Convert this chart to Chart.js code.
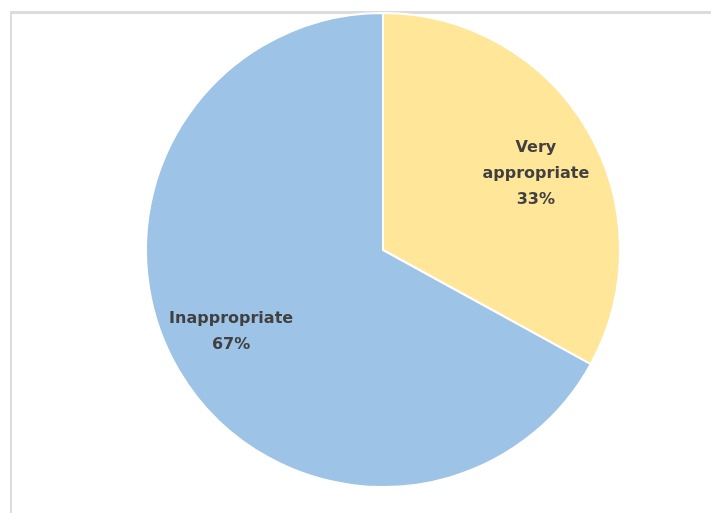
<!DOCTYPE html>
<html>
<head>
<meta charset="utf-8">
<script src="https://cdn.jsdelivr.net/npm/chart.js@4/dist/chart.umd.min.js"></script>
<style>
  html, body { margin: 0; padding: 0; background: #ffffff; }
  #wrap { position: relative; width: 711px; height: 513px; overflow: hidden; }
  #frame {
    position: absolute; left: 10px; top: 11px; right: -5px; bottom: -5px;
    border-top: 3px solid #dcdcdc; border-left: 2px solid #dcdcdc;
  }
  #chart { position: absolute; left: 0; top: 0; }
</style>
</head>
<body>
<div id="wrap">
  <div id="frame"></div>
  <canvas id="chart" width="711" height="513"></canvas>
</div>
<script>
// Share of responses per rating
const categories = ['Very appropriate', 'Inappropriate'];
const labelLines = [['Very', 'appropriate'], ['Inappropriate']];
const shares = [33, 67];
const sliceColors = ['#FFE699', '#9DC3E6'];
// small per-label nudges (px) from the slice's mid-angle anchor
const labelNudge = [[6, 11], [-5, -5]];

const sliceLabels = {
  id: 'sliceLabels',
  afterDatasetsDraw(chart) {
    const ctx = chart.ctx;
    const meta = chart.getDatasetMeta(0);
    ctx.save();
    ctx.font = 'bold 16px "DejaVu Sans", sans-serif';
    ctx.fillStyle = '#404040';
    ctx.textAlign = 'center';
    ctx.textBaseline = 'middle';
    meta.data.forEach((arc, i) => {
      const p = arc.getProps(['x', 'y', 'startAngle', 'endAngle', 'outerRadius'], true);
      const mid = (p.startAngle + p.endAngle) / 2;
      const r = p.outerRadius * 0.72;
      const cx = p.x + Math.cos(mid) * r + labelNudge[i][0];
      const cy = p.y + Math.sin(mid) * r + labelNudge[i][1];
      const lines = labelLines[i].concat([shares[i] + '%']);
      const lh = 26;
      const y0 = cy - (lines.length - 1) * lh / 2;
      lines.forEach((t, k) => ctx.fillText(t, cx, y0 + k * lh));
    });
    ctx.restore();
  }
};

new Chart(document.getElementById('chart'), {
  type: 'pie',
  data: {
    labels: categories,
    datasets: [{
      data: shares,
      backgroundColor: sliceColors,
      borderColor: '#ffffff',
      borderWidth: 2,
      hoverOffset: 0,
      offset: 0
    }]
  },
  options: {
    responsive: false,
    animation: false,
    events: [],
    radius: 237,
    layout: { padding: { left: 55, right: 0, top: 0, bottom: 13 } },
    plugins: {
      legend: { display: false },
      tooltip: { enabled: false }
    }
  },
  plugins: [sliceLabels]
});
</script>
</body>
</html>
